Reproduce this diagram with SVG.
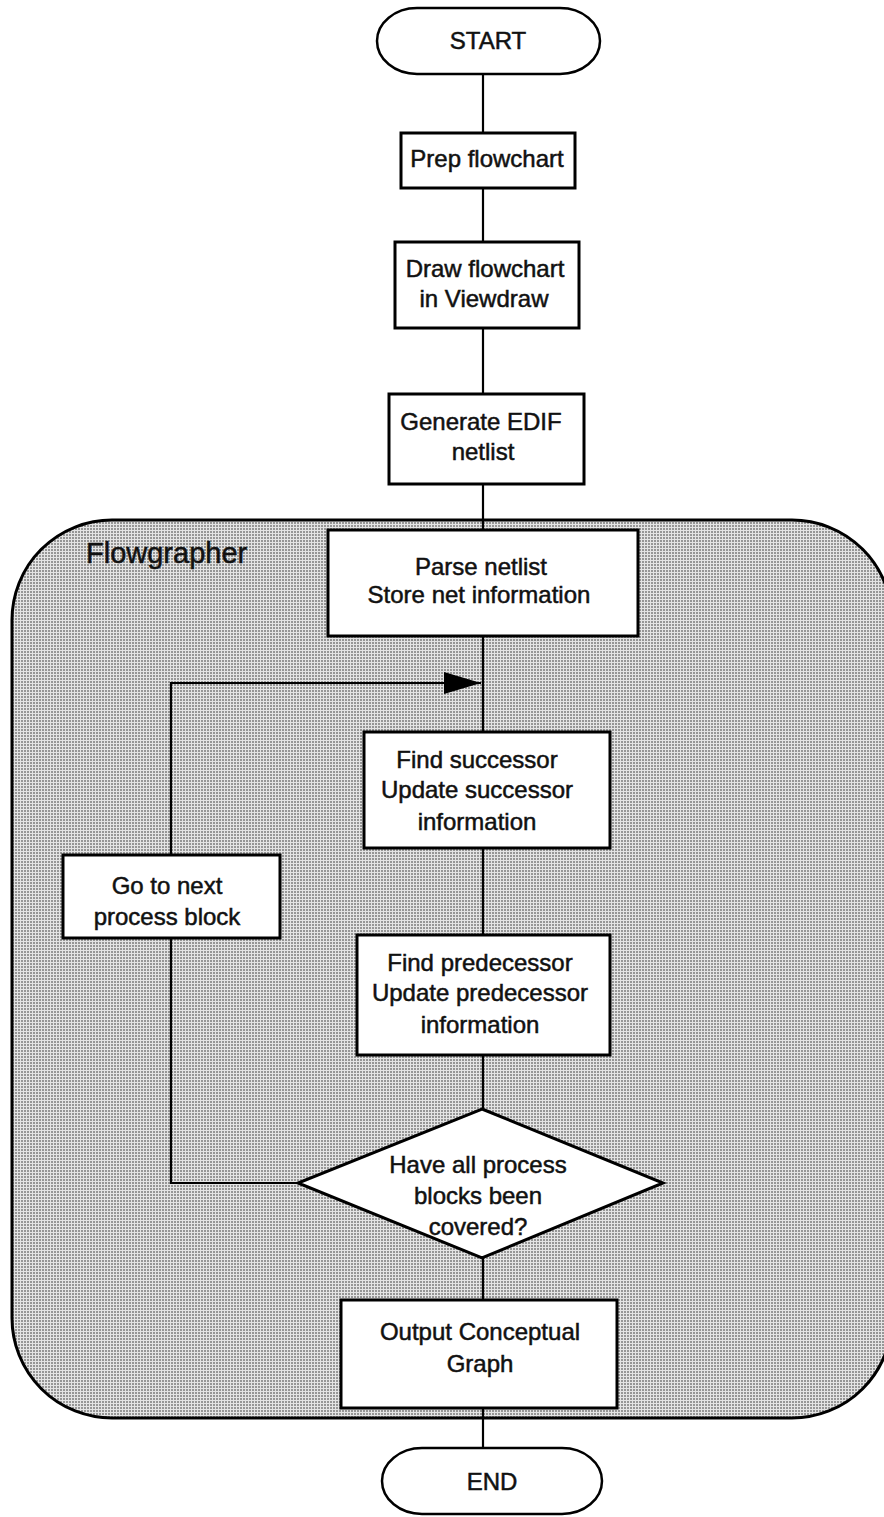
<svg xmlns="http://www.w3.org/2000/svg" width="884" height="1517" viewBox="0 0 884 1517">
  <defs>
    <pattern id="halftone" patternUnits="userSpaceOnUse" width="3" height="3">
      <rect width="3" height="3" fill="#e4e4e4"/>
      <rect width="2" height="2" fill="#969696"/>
    </pattern>
    <marker id="arrow" markerUnits="userSpaceOnUse" markerWidth="40" markerHeight="24" refX="37" refY="11" orient="auto">
      <polygon points="0,0 37,11 0,22" fill="#000"/>
    </marker>
  </defs>
  <style>
    .box { fill: #fff; stroke: #000; stroke-width: 3; }
    .term { fill: #fff; stroke: #000; stroke-width: 2.5; }
    .wire { fill: none; stroke: #000; stroke-width: 2.2; }
    .lbl { font-family: "Liberation Sans", Arial, sans-serif; font-size: 24px; fill: #111; stroke: #111; stroke-width: 0.5; text-anchor: middle; }
    .title { font-family: "Liberation Sans", Arial, sans-serif; font-size: 29px; fill: #111; stroke: #111; stroke-width: 0.5; }
  </style>

  <!-- Flowgrapher region -->
  <g id="flowgrapher">
    <rect x="12" y="520" width="880" height="898" rx="100" ry="100" fill="url(#halftone)" stroke="#000" stroke-width="3"/>
    <text class="title" x="86" y="563">Flowgrapher</text>
  </g>

  <!-- connectors -->
  <g id="connectors">
    <line class="wire" x1="483" y1="74" x2="483" y2="133"/>
    <line class="wire" x1="483" y1="188" x2="483" y2="242"/>
    <line class="wire" x1="483" y1="328" x2="483" y2="394"/>
    <line class="wire" x1="483" y1="484" x2="483" y2="530"/>
    <line class="wire" x1="483" y1="636" x2="483" y2="732"/>
    <line class="wire" x1="483" y1="848" x2="483" y2="935"/>
    <line class="wire" x1="483" y1="1055" x2="483" y2="1109"/>
    <line class="wire" x1="483" y1="1258" x2="483" y2="1300"/>
    <line class="wire" x1="483" y1="1408" x2="483" y2="1448"/>
    <polyline class="wire" points="298,1183 171,1183 171,938"/>
    <polyline class="wire" points="171,855 171,683 481,683" marker-end="url(#arrow)"/>
  </g>

  <g id="start">
    <rect class="term" x="377" y="8" width="223" height="66" rx="40" ry="33"/>
    <text class="lbl" x="488" y="49">START</text>
  </g>

  <g id="prep">
    <rect class="box" x="401" y="133" width="174" height="55"/>
    <text class="lbl" x="487" y="167">Prep flowchart</text>
  </g>

  <g id="draw">
    <rect class="box" x="395" y="242" width="184" height="86"/>
    <text class="lbl" x="485" y="277">Draw flowchart</text>
    <text class="lbl" x="484" y="307">in Viewdraw</text>
  </g>

  <g id="generate">
    <rect class="box" x="389" y="394" width="195" height="90"/>
    <text class="lbl" x="481" y="430">Generate EDIF</text>
    <text class="lbl" x="483" y="460">netlist</text>
  </g>

  <g id="parse">
    <rect class="box" x="328" y="530" width="310" height="106"/>
    <text class="lbl" x="481" y="575">Parse netlist</text>
    <text class="lbl" x="479" y="603">Store net information</text>
  </g>

  <g id="successor">
    <rect class="box" x="364" y="732" width="246" height="116"/>
    <text class="lbl" x="477" y="768">Find successor</text>
    <text class="lbl" x="477" y="798">Update successor</text>
    <text class="lbl" x="477" y="830">information</text>
  </g>

  <g id="next-block">
    <rect class="box" x="63" y="855" width="217" height="83"/>
    <text class="lbl" x="167" y="894">Go to next</text>
    <text class="lbl" x="167" y="925">process block</text>
  </g>

  <g id="predecessor">
    <rect class="box" x="357" y="935" width="253" height="120"/>
    <text class="lbl" x="480" y="971">Find predecessor</text>
    <text class="lbl" x="480" y="1001">Update predecessor</text>
    <text class="lbl" x="480" y="1033">information</text>
  </g>

  <g id="decision">
    <polygon class="box" points="482,1109 663,1183 482,1258 298,1183"/>
    <text class="lbl" x="478" y="1173">Have all process</text>
    <text class="lbl" x="478" y="1204">blocks been</text>
    <text class="lbl" x="478" y="1235">covered?</text>
  </g>

  <g id="output">
    <rect class="box" x="341" y="1300" width="276" height="108"/>
    <text class="lbl" x="480" y="1340">Output Conceptual</text>
    <text class="lbl" x="480" y="1372">Graph</text>
  </g>

  <g id="end">
    <rect class="term" x="382" y="1448" width="220" height="66" rx="40" ry="33"/>
    <text class="lbl" x="492" y="1490">END</text>
  </g>
</svg>
